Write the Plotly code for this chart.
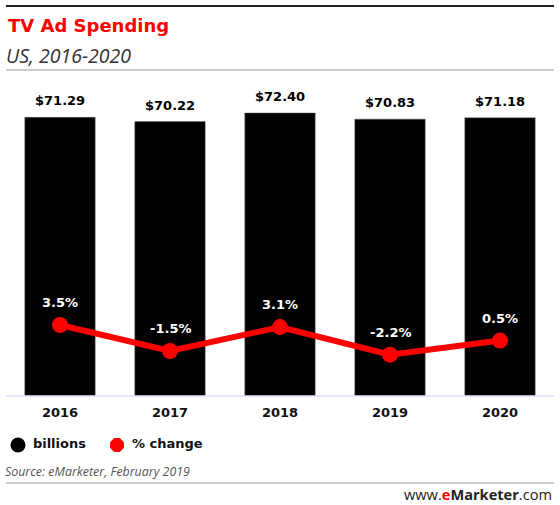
import plotly.graph_objects as go

years = ["2016", "2017", "2018", "2019", "2020"]
spending = [71.29, 70.22, 72.40, 70.83, 71.18]
pct_change = [3.5, -1.5, 3.1, -2.2, 0.5]
spend_labels = ["$71.29", "$70.22", "$72.40", "$70.83", "$71.18"]
pct_labels = ["3.5%", "-1.5%", "3.1%", "-2.2%", "0.5%"]
legend_names = [" billions", " % change"]
legend_colors = ["black", "#ff0000"]
legend_symbols = ["circle", "octagon"]

W, H = 560, 505
PLOT_TOP, PLOT_BOTTOM = 80, 396


def fy(px):
    # pixel row -> paper y (margins are zero)
    return (H - px) / H


def fx(px):
    return px / W


BOLD = "DejaVu Sans"
ITAL = "Open Sans"

fig = go.Figure()

fig.add_trace(go.Bar(
    x=years, y=spending, name="billions",
    marker=dict(color="black", line=dict(color="#666", width=0.5)),
    hoverinfo="skip",
))

fig.add_trace(go.Scatter(
    x=years, y=pct_change, name="% change", yaxis="y2",
    mode="lines+markers",
    line=dict(color="#ff0000", width=6),
    marker=dict(color="#ff0000", size=16),
    hoverinfo="skip",
))

# legend row drawn on its own small axes
fig.add_trace(go.Scatter(
    x=[18, 117], y=[0, 0], xaxis="x2", yaxis="y3",
    mode="markers+text", text=legend_names, textposition="middle right",
    marker=dict(color=legend_colors, size=15, symbol=legend_symbols),
    textfont=dict(family=BOLD, size=13, color="#111", weight="bold"),
    hoverinfo="skip",
))

annotations = []
# category index used for x so numeric-looking years are not read as positions
for i, (v, lab) in enumerate(zip(spending, spend_labels)):
    annotations.append(dict(x=i, y=v, xref="x", yref="y", text=lab, showarrow=False,
                            yanchor="bottom", yshift=7,
                            font=dict(family=BOLD, size=13, color="black", weight="bold")))
for i, (v, lab) in enumerate(zip(pct_change, pct_labels)):
    annotations.append(dict(x=i, y=v, xref="x", yref="y2", text=lab, showarrow=False,
                            yanchor="bottom", yshift=13,
                            font=dict(family=BOLD, size=13, color="white", weight="bold")))

annotations += [
    dict(x=fx(6), y=fy(25), xref="paper", yref="paper", xanchor="left", yanchor="middle",
         text="<b>TV Ad Spending</b>", showarrow=False,
         font=dict(family=BOLD, size=18, color="#ff0000")),
    dict(x=fx(4), y=fy(56), xref="paper", yref="paper", xanchor="left", yanchor="middle",
         text="<i>US, 2016-2020</i>", showarrow=False,
         font=dict(family=ITAL, size=19.5, color="#333")),
    dict(x=fx(3), y=fy(472), xref="paper", yref="paper", xanchor="left", yanchor="middle",
         text="<i>Source: eMarketer, February 2019</i>", showarrow=False,
         font=dict(family=ITAL, size=12.4, color="#555")),
    dict(x=fx(554), y=fy(494), xref="paper", yref="paper", xanchor="right", yanchor="middle",
         text="www.<span style='color:#ff0000'><b>e</b></span><b>Marketer</b>.com",
         showarrow=False, font=dict(family=ITAL, size=14.6, color="#222")),
]

shapes = [
    dict(type="line", xref="paper", yref="paper", x0=fx(6), x1=fx(554),
         y0=fy(6), y1=fy(6), line=dict(color="#222", width=2)),
    dict(type="line", xref="paper", yref="paper", x0=fx(6), x1=fx(554),
         y0=fy(70), y1=fy(70), line=dict(color="#999", width=1)),
    dict(type="line", xref="paper", yref="paper", x0=fx(6), x1=fx(554),
         y0=fy(483), y1=fy(483), line=dict(color="#999", width=1)),
    dict(type="line", xref="paper", yref="paper", x0=fx(6), x1=fx(554),
         y0=fy(PLOT_BOTTOM), y1=fy(PLOT_BOTTOM), line=dict(color="#dde3ee", width=1.5),
         layer="above"),
]

plot_h = PLOT_BOTTOM - PLOT_TOP

fig.update_layout(
    width=W, height=H,
    margin=dict(l=0, r=0, t=0, b=0, pad=0),
    paper_bgcolor="white", plot_bgcolor="white",
    showlegend=False,
    bargap=0.36,
    xaxis=dict(domain=[fx(5), fx(555)], anchor="y", type="category",
               range=[-0.5, len(years) - 0.5],
               showgrid=False, showline=False, zeroline=False, ticks="",
               ticklabelstandoff=7,
               tickfont=dict(family=BOLD, size=13, color="#111", weight="bold"),
               fixedrange=True),
    yaxis=dict(domain=[fy(PLOT_BOTTOM), fy(PLOT_TOP)], range=[0, plot_h / 3.909],
               visible=False, fixedrange=True),
    yaxis2=dict(range=[-10.15, 50.6], overlaying="y", visible=False, fixedrange=True),
    xaxis2=dict(domain=[0, 1], range=[0, W], anchor="y3", visible=False, fixedrange=True),
    yaxis3=dict(domain=[fy(457), fy(433)], range=[-1, 1], anchor="x2",
                visible=False, fixedrange=True),
    annotations=annotations,
    shapes=shapes,
)

fig.write_html("out.html", config={"displayModeBar": False},
               post_script="document.body.style.margin='0px';")
